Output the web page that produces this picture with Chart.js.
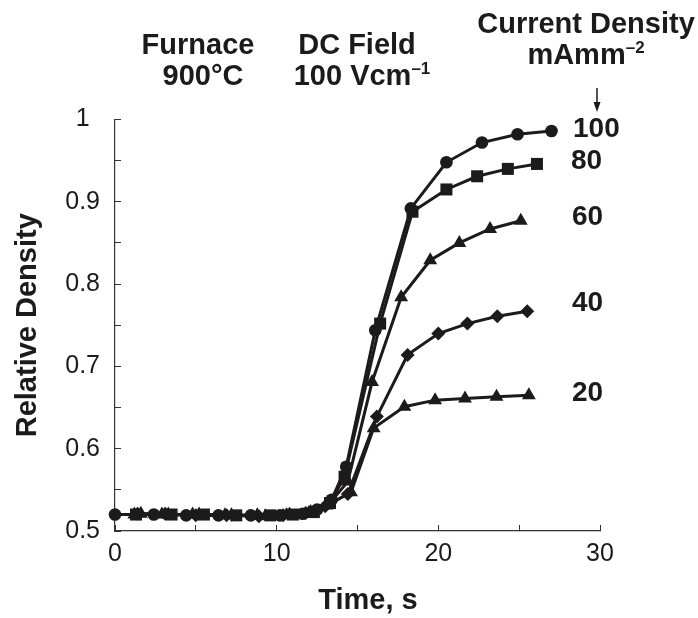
<!DOCTYPE html>
<html>
<head>
<meta charset="utf-8">
<script src="https://cdn.jsdelivr.net/npm/chart.js@4"></script>
<style>
  html, body { margin: 0; padding: 0; background: #fff; }
  #wrap { width: 698px; height: 618px; }
</style>
</head>
<body>
<div id="wrap"><canvas id="chart" width="698" height="618"></canvas></div>
<script>
// time (s) and relative density for each current density (mA mm^-2)
const t100 = [0, 2.4, 4.4, 6.4, 8.4, 10.2, 11.6, 12.5, 13.4, 14.3, 16.1, 18.3, 20.5, 22.7, 24.9, 27.0];
const d100 = [0.520, 0.520, 0.519, 0.519, 0.519, 0.519, 0.521, 0.526, 0.538, 0.578, 0.744, 0.892, 0.948, 0.972, 0.982, 0.986];

const t80 = [1.3, 3.5, 5.5, 7.5, 9.6, 11.0, 12.3, 13.3, 14.2, 16.4, 18.4, 20.5, 22.4, 24.3, 26.1];
const d80 = [0.520, 0.520, 0.520, 0.519, 0.519, 0.520, 0.523, 0.534, 0.566, 0.752, 0.888, 0.915, 0.931, 0.940, 0.946];

const t60 = [1.6, 3.3, 5.2, 7.2, 9.3, 10.8, 12.1, 13.2, 14.4, 15.9, 17.7, 19.5, 21.3, 23.2, 25.1];
const d60 = [0.521, 0.520, 0.520, 0.519, 0.518, 0.520, 0.523, 0.532, 0.560, 0.681, 0.784, 0.829, 0.850, 0.867, 0.877];

const t40 = [1.4, 3.1, 5.0, 6.9, 8.9, 10.4, 11.8, 13.0, 14.4, 16.2, 18.1, 20.0, 21.8, 23.65, 25.5];
const d40 = [0.521, 0.521, 0.519, 0.519, 0.518, 0.519, 0.522, 0.530, 0.545, 0.639, 0.714, 0.740, 0.752, 0.761, 0.767];

const t20 = [1.2, 2.9, 4.8, 6.8, 8.8, 10.6, 12.0, 13.1, 14.6, 16.0, 17.9, 19.8, 21.65, 23.6, 25.6];
const d20 = [0.520, 0.520, 0.520, 0.519, 0.519, 0.519, 0.522, 0.531, 0.547, 0.625, 0.651, 0.659, 0.661, 0.663, 0.665];

const seriesLabels = ['100', '80', '60', '40', '20'];
const xTickLabels = ['0', '10', '20', '30'];
const yTickLabels = ['0.5', '0.6', '0.7', '0.8', '0.9', '1'];

const INK = '#1c1a1b';
const FONT = '"Liberation Sans", Arial, Helvetica, sans-serif';

const pts = (ts, ds) => ts.map((t, i) => ({ x: t, y: ds[i] }));

function series(ts, ds, style, radius) {
    return {
        data: pts(ts, ds),
        borderColor: INK,
        backgroundColor: INK,
        borderWidth: 3,
        tension: 0,
        pointStyle: style,
        pointRadius: radius,
        pointBorderWidth: 0,
        pointBackgroundColor: INK,
        clip: false,
    };
}

// draws text where parts can be superscripts: [[text, sup?], ...]
function richText(ctx, parts, cx, baseline, size) {
    const big = `bold ${size}px ${FONT}`;
    const small = `bold ${Math.round(size * 0.58)}px ${FONT}`;
    let total = 0;
    parts.forEach(([s, sup]) => { ctx.font = sup ? small : big; total += ctx.measureText(s).width; });
    let x = cx - total / 2;
    ctx.textAlign = 'left';
    ctx.textBaseline = 'alphabetic';
    parts.forEach(([s, sup]) => {
        ctx.font = sup ? small : big;
        ctx.fillText(s, x, sup ? baseline - size * 0.38 : baseline);
        x += ctx.measureText(s).width;
    });
}

const annotations = {
    id: 'annotations',
    afterDraw(chart) {
        const ctx = chart.ctx;
        ctx.save();
        ctx.fillStyle = INK;
        richText(ctx, [['Furnace']], 198, 54, 29);
        richText(ctx, [['900°C']], 203, 85, 29);
        richText(ctx, [['DC Field']], 357, 54, 29);
        richText(ctx, [['100 Vcm'], ['\u20131', true]], 362, 85, 29);
        richText(ctx, [['Current Density']], 586, 33, 29);
        richText(ctx, [['mAmm'], ['\u20132', true]], 586, 64, 29);

        // arrow under the legend heading
        ctx.strokeStyle = INK;
        ctx.lineWidth = 1.5;
        ctx.beginPath();
        ctx.moveTo(597, 88);
        ctx.lineTo(597, 104);
        ctx.stroke();
        ctx.beginPath();
        ctx.moveTo(593.5, 102);
        ctx.lineTo(600.5, 102);
        ctx.lineTo(597, 112);
        ctx.closePath();
        ctx.fill();

        // series labels at the end of each curve
        ctx.font = `bold 28px ${FONT}`;
        ctx.textAlign = 'left';
        ctx.textBaseline = 'middle';
        const labelPos = [[573, 129], [571, 161], [572, 217], [572, 303], [572, 393]];
        seriesLabels.forEach((s, i) => ctx.fillText(s, labelPos[i][0], labelPos[i][1]));

        // x axis title
        ctx.font = `bold 29px ${FONT}`;
        ctx.textAlign = 'center';
        ctx.textBaseline = 'middle';
        ctx.fillText('Time, s', 368, 601);
        ctx.restore();
    },
};

new Chart(document.getElementById('chart'), {
    type: 'line',
    data: {
        datasets: [
            series(t100, d100, 'circle', 6.3),
            series(t80, d80, 'rect', 8.5),
            series(t60, d60, 'triangle', 8),
            series(t40, d40, 'rectRot', 7),
            series(t20, d20, 'triangle', 8),
        ],
    },
    options: {
        responsive: false,
        animation: false,
        events: [],
        layout: { padding: { top: 119.5, right: 98, left: 0, bottom: 0 } },
        plugins: {
            legend: { display: false },
            tooltip: { enabled: false },
        },
        scales: {
            x: {
                type: 'linear',
                min: 0,
                max: 30,
                afterFit: (s) => { s.height = 87; },
                grid: {
                    drawOnChartArea: false,
                    tickLength: -6,
                    tickWidth: 1,
                    tickColor: '#333',
                },
                border: { color: '#333', width: 1.2 },
                ticks: {
                    stepSize: 5,
                    padding: 14,
                    color: INK,
                    font: { family: FONT, size: 25 },
                    maxRotation: 0,
                    autoSkip: false,
                    callback: (v) => (v % 10 === 0 ? xTickLabels[v / 10] : ''),
                },
            },
            y: {
                type: 'linear',
                min: 0.5,
                max: 1,
                afterFit: (s) => { s.width = 115; },
                grid: {
                    drawOnChartArea: false,
                    tickLength: -6,
                    tickWidth: 1,
                    tickColor: '#333',
                },
                border: { color: '#333', width: 1.2 },
                title: {
                    display: true,
                    text: 'Relative Density',
                    color: INK,
                    font: { family: FONT, size: 29, weight: 'bold' },
                    padding: { top: 10.5, bottom: 0 },
                },
                ticks: {
                    stepSize: 0.05,
                    padding: 21,
                    crossAlign: 'center',
                    labelOffset: 0,
                    color: INK,
                    font: { family: FONT, size: 25 },
                    autoSkip: false,
                    callback: (v) => {
                        const k = Math.round((v - 0.5) * 100);
                        return k % 10 === 0 ? yTickLabels[k / 10] : '';
                    },
                },
            },
        },
    },
    plugins: [annotations],
});
</script>
</body>
</html>
